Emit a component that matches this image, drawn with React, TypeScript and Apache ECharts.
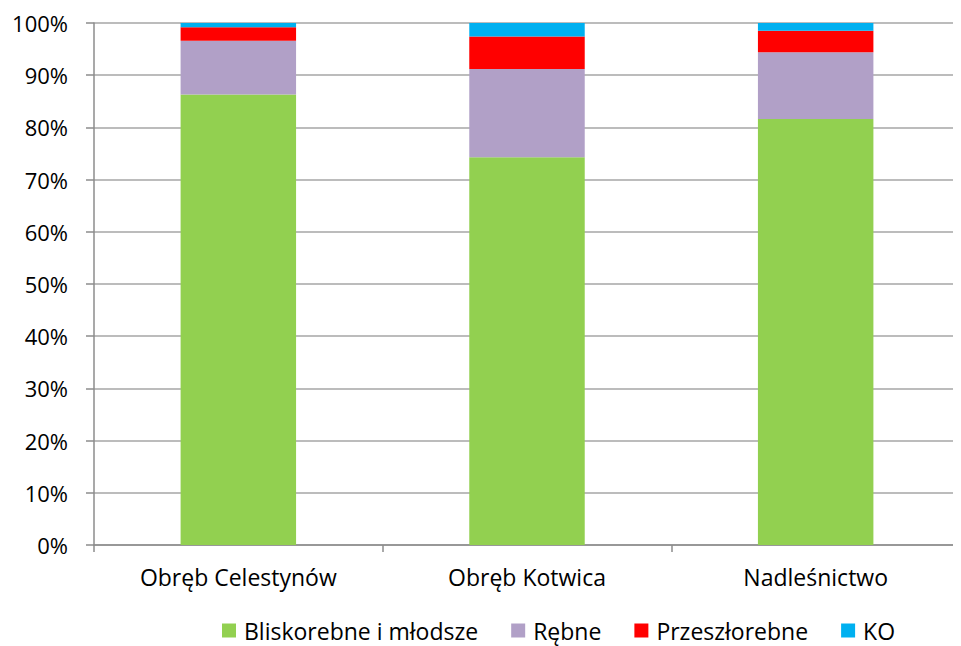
import React, { useEffect, useRef } from "react";
import * as echarts from "echarts";

const categories = ["Obręb Celestynów", "Obręb Kotwica", "Nadleśnictwo"];
const seriesNames = ["Bliskorebne i młodsze", "Rębne", "Przeszłorebne", "KO"];
const bliskorebne = [86.3, 74.3, 81.6];
const rebne = [10.3, 16.9, 12.8];
const przeszlorebne = [2.6, 6.2, 4.1];
const ko = [0.8, 2.6, 1.5];
const colors = ["#92D050", "#B1A0C7", "#FF0000", "#00B0F0"];

const FONT = "Open Sans";

export default function App() {
  const ref = useRef<HTMLDivElement>(null);
  useEffect(() => {
    if (!ref.current) return;
    const chart = echarts.init(ref.current, null, { renderer: "svg" });
    const data = [bliskorebne, rebne, przeszlorebne, ko];
    chart.setOption({
      animation: false,
      backgroundColor: "#ffffff",
      textStyle: { fontFamily: FONT },
      grid: { left: 94, right: 1, top: 23, bottom: 101, containLabel: false },
      legend: {
        left: 222,
        top: 619,
        padding: 0,
        itemWidth: 14,
        itemHeight: 14,
        itemGap: 33,
        icon: "rect",
        textStyle: { fontFamily: FONT, fontSize: 23, lineHeight: 22, color: "#000", padding: [0, 0, 0, 3] },
        data: seriesNames,
      },
      xAxis: {
        type: "category",
        data: categories,
        axisLine: { lineStyle: { color: "#8c8c8c", width: 1.5 } },
        axisTick: { show: true, length: 7, lineStyle: { color: "#8c8c8c", width: 1.5 } },
        axisLabel: { fontFamily: FONT, fontSize: 23, color: "#000", margin: 20 },
      },
      yAxis: {
        type: "value",
        min: 0,
        max: 100,
        interval: 10,
        axisLine: { show: true, lineStyle: { color: "#8c8c8c", width: 1.5 } },
        axisTick: { show: true, length: 8, lineStyle: { color: "#8c8c8c", width: 1.5 } },
        axisLabel: { formatter: "{value}%", fontFamily: FONT, fontSize: 22, color: "#000", margin: 26 },
        splitLine: { show: true, lineStyle: { color: "#a6a6a6", width: 1.5 } },
      },
      series: seriesNames.map((name, i) => ({
        name,
        type: "bar",
        stack: "total",
        barWidth: "40%",
        data: data[i],
        itemStyle: { color: colors[i] },
      })),
    });
    return () => chart.dispose();
  }, []);
  return <div ref={ref} style={{ width: 961, height: 646, marginLeft: -8, marginTop: -8 }} />;
}
